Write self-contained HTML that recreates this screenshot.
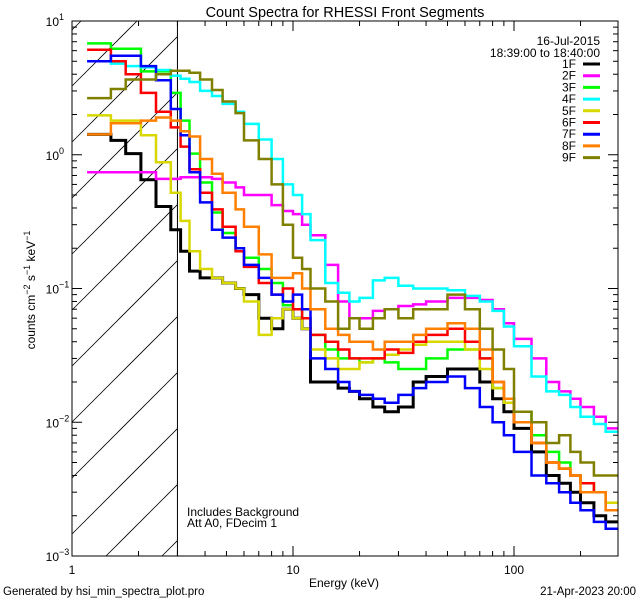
<!DOCTYPE html>
<html><head><meta charset="utf-8">
<style>
html,body{margin:0;padding:0;background:#fff;}
svg{display:block;font-family:"Liberation Sans",sans-serif;}
</style></head>
<body>
<svg id="chart" width="640" height="600" viewBox="0 0 640 600" xmlns="http://www.w3.org/2000/svg">
<rect x="0" y="0" width="640" height="600" fill="#fff"/>
<text x="345" y="17" font-size="14.5" text-anchor="middle">Count Spectra for RHESSI Front Segments</text>
<g id="hatch"></g>
<g id="ticks"></g>
<g id="series"></g>
<rect x="72" y="21" width="546" height="535" fill="none" stroke="#000" stroke-width="1"/>
<text transform="translate(35,290) rotate(-90)" font-size="12" text-anchor="middle">counts cm<tspan dy="-5" font-size="9">−2</tspan><tspan dy="5"> s</tspan><tspan dy="-5" font-size="9">−1</tspan><tspan dy="5"> keV</tspan><tspan dy="-5" font-size="9">−1</tspan></text>
<text x="344" y="587" font-size="12" text-anchor="middle">Energy (keV)</text>
<text x="3" y="595" font-size="11.5">Generated by hsi_min_spectra_plot.pro</text>
<text x="636" y="595" font-size="11.5" text-anchor="end">21-Apr-2023 20:00</text>
<text x="187" y="516" font-size="12">Includes Background</text>
<text x="187" y="527" font-size="12">Att A0, FDecim 1</text>
<text x="600" y="45" font-size="12" text-anchor="end">16-Jul-2015</text>
<text x="600" y="57" font-size="12" text-anchor="end">18:39:00 to 18:40:00</text>
<g id="legend"></g>
</svg>
<script>
const edges=[1.17,1.5,1.75,2.05,2.4,2.8,3.1,3.4,3.8,4.3,4.8,5.5,6,7,8,9,10,11,12,14,16,18,20,23,26,30,35,40,50,60,70,80,90,100,120,140,160,180,200,230,260,296];
const s1F=[1.42,1.28,1.02,0.65,0.41,0.275,0.19,0.135,0.12,0.12,0.11,0.1,0.09,0.06,0.05,0.07,0.06,0.05,0.02,0.02,0.018,0.017,0.015,0.013,0.012,0.013,0.02,0.022,0.025,0.025,0.02,0.015,0.012,0.009,0.006,0.004,0.0035,0.003,0.0025,0.002,0.0018];
const s2F=[0.74,0.74,0.74,0.74,0.66,0.66,0.68,0.68,0.68,0.66,0.62,0.57,0.5,0.5,0.42,0.38,0.36,0.3,0.25,0.15,0.08,0.06,0.06,0.068,0.07,0.074,0.076,0.08,0.085,0.085,0.082,0.07,0.055,0.042,0.03,0.02,0.017,0.015,0.013,0.011,0.009];
const s3F=[6.8,6.2,6.2,4.2,4.2,2.9,1.8,1.02,0.62,0.37,0.26,0.19,0.17,0.14,0.11,0.075,0.07,0.06,0.045,0.035,0.03,0.03,0.028,0.03,0.028,0.025,0.025,0.03,0.035,0.035,0.03,0.018,0.015,0.012,0.008,0.006,0.005,0.004,0.0035,0.003,0.0025];
const s4F=[5.0,4.8,4.6,4.5,4.3,3.9,3.7,3.5,3.0,2.75,2.4,2.1,1.7,1.3,0.93,0.6,0.5,0.36,0.23,0.11,0.093,0.08,0.085,0.115,0.12,0.105,0.1,0.1,0.097,0.088,0.08,0.068,0.052,0.037,0.022,0.017,0.016,0.013,0.011,0.0097,0.0085];
const s5F=[1.97,1.8,1.8,1.4,0.88,0.52,0.32,0.19,0.14,0.12,0.11,0.1,0.08,0.045,0.06,0.07,0.06,0.05,0.035,0.03,0.025,0.025,0.028,0.03,0.032,0.035,0.038,0.04,0.04,0.035,0.025,0.018,0.014,0.01,0.007,0.005,0.0045,0.004,0.0035,0.003,0.0025];
const s6F=[6.1,5.0,4.0,2.9,2.1,1.6,1.15,0.78,0.52,0.39,0.29,0.19,0.145,0.11,0.09,0.1,0.07,0.06,0.045,0.04,0.035,0.03,0.03,0.03,0.035,0.033,0.04,0.045,0.05,0.04,0.03,0.02,0.015,0.01,0.007,0.005,0.0045,0.004,0.0035,0.003,0.0022];
const s7F=[5.0,5.5,5.5,4.6,3.6,2.2,1.4,0.74,0.44,0.275,0.24,0.2,0.15,0.12,0.09,0.08,0.09,0.07,0.03,0.025,0.02,0.017,0.016,0.015,0.014,0.016,0.018,0.02,0.022,0.018,0.013,0.01,0.008,0.006,0.004,0.0035,0.003,0.0025,0.0022,0.0018,0.0016];
const s8F=[1.42,1.72,1.72,1.8,1.9,1.8,1.5,1.37,0.93,0.72,0.52,0.39,0.29,0.18,0.12,0.12,0.13,0.1,0.07,0.05,0.045,0.04,0.04,0.035,0.04,0.04,0.045,0.05,0.055,0.05,0.035,0.02,0.015,0.01,0.007,0.005,0.0045,0.004,0.003,0.003,0.0022];
const s9F=[2.65,3.1,3.65,3.65,4.0,4.25,4.25,4.1,3.65,3.05,2.5,2.05,1.28,0.93,0.6,0.3,0.17,0.14,0.1,0.08,0.05,0.06,0.05,0.06,0.07,0.06,0.07,0.07,0.09,0.07,0.05,0.035,0.025,0.012,0.01,0.007,0.008,0.006,0.005,0.004,0.004];
const seriesNames=["1F","2F","3F","4F","5F","6F","7F","8F","9F"];
const seriesColors=["#000000","#ff00ff","#00ff00","#00ffff","#d8d800","#ff0000","#0000ff","#ff8000","#808000"];
const seriesData=[s1F,s2F,s3F,s4F,s5F,s6F,s7F,s8F,s9F];
const yTickExp=[-3,-2,-1,0,1];
const xTickLabels=["1","10","100"];

const NS="http://www.w3.org/2000/svg";
const X0=72,X1=618,Y0=21,Y1=556,DX=221,DY=(Y1-Y0)/4;
function xs(e){return X0+DX*Math.log10(e);}
function ys(v){return Y0+DY*(1-Math.log10(v));}
function mk(t,a,p){const e=document.createElementNS(NS,t);for(const k in a)e.setAttribute(k,a[k]);p.appendChild(e);return e;}

// hatch
const hg=document.getElementById('hatch');
const x3=xs(3);
for(let c=86-56*3;c<Y1+(x3-X0)+56;c+=56){
  // line y = c - (x-X0), clip to x in [X0,x3], y in [Y0,Y1]
  let xa=X0,ya=c; let xb=x3,yb=c-(x3-X0);
  if(ya>Y1){xa=X0+(ya-Y1);ya=Y1;}
  if(yb<Y0){xb=X0+(c-Y0);yb=Y0;}
  if(xa>=xb)continue;
  const l=mk('line',{x1:xa,y1:ya,x2:xb,y2:yb,stroke:'#000','stroke-width':0.8},hg);
  
  
}
const vl=mk('line',{x1:x3,y1:Y0,x2:x3,y2:Y1,stroke:'#000','stroke-width':1},hg);



// ticks
const tg=document.getElementById('ticks');
for(let d=0;d<3;d++){for(let m=1;m<=9;m++){const e=Math.pow(10,d)*m;const x=xs(e);if(x>X1)continue;const len=m===1?10:5;
  const t1=mk('line',{x1:x,y1:Y1,x2:x,y2:Y1-len,stroke:'#000'},tg);
  
  
  const t2=mk('line',{x1:x,y1:Y0,x2:x,y2:Y0+len,stroke:'#000'},tg);
  
  
}}
xTickLabels.forEach((lab,i)=>{const t=mk('text',{x:xs(Math.pow(10,i)),y:574,'font-size':12,'text-anchor':'middle'},tg);t.textContent=lab;
  
  });
for(let d=-3;d<1;d++){for(let m=1;m<=9;m++){const v=Math.pow(10,d)*m;const y=ys(v);const len=m===1?10:5;
  const t1=mk('line',{x1:X0,y1:y,x2:X0+len,y2:y,stroke:'#000'},tg);
  
  
  const t2=mk('line',{x1:X1,y1:y,x2:X1-len,y2:y,stroke:'#000'},tg);
  
  
}}
yTickExp.forEach(ex=>{const y=ys(Math.pow(10,ex));
  const t=mk('text',{x:59,y:y+5,'font-size':12,'text-anchor':'end'},tg);t.textContent='10';
  
  
  const s=mk('text',{x:59,y:y-1,'font-size':9},tg);s.textContent=ex<0?('−'+(-ex)):String(ex);
  
  });

// series
const sg=document.getElementById('series');
seriesData.forEach((vals,si)=>{let d='';
  vals.forEach((v,i)=>{const xa=xs(edges[i]),xb=xs(edges[i+1]),y=ys(v);d+=(i===0?'M':'L')+xa.toFixed(1)+','+y.toFixed(1)+'L'+xb.toFixed(1)+','+y.toFixed(1);});
  const p=mk('path',{d:d,fill:'none',stroke:seriesColors[si],'stroke-width':si===0?3:2.5,'stroke-linejoin':'miter'},sg);
  
  
});

// legend
const lg=document.getElementById('legend');
seriesNames.forEach((n,i)=>{const y=64+i*11.7;
  const t=mk('text',{x:576,y:y+4,'font-size':12,'text-anchor':'end'},lg);t.textContent=n;
  
  
  const l=mk('line',{x1:583,y1:y,x2:600,y2:y,stroke:seriesColors[i],'stroke-width':3},lg);
  
  
});
</script>
</body></html>
